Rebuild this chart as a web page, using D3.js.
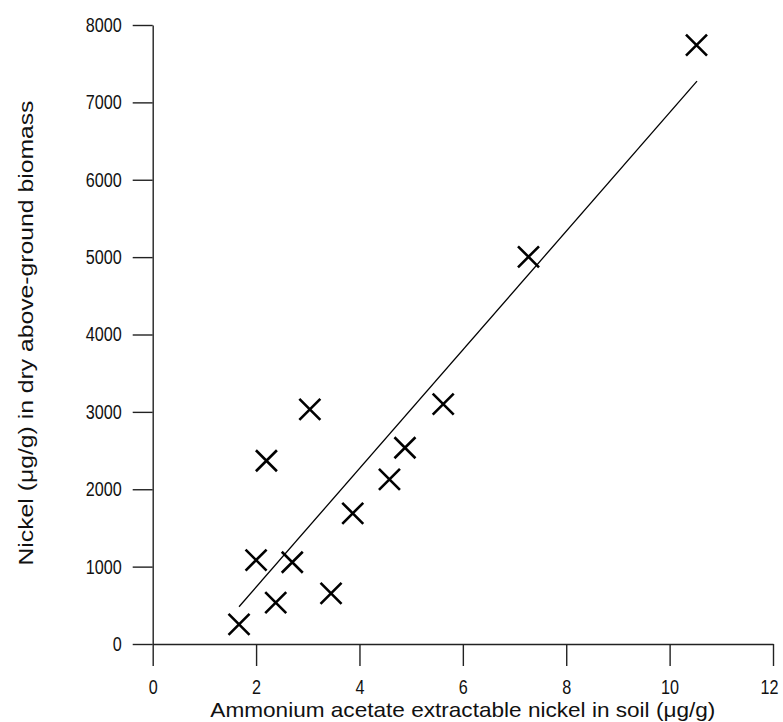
<!DOCTYPE html>
<html>
<head>
<meta charset="utf-8">
<script src="https://cdn.jsdelivr.net/npm/d3@7"></script>
<style>
  body { margin: 0; background: #fff; }
  text { font-family: "Liberation Sans", Arial, sans-serif; fill: #111; }
</style>
</head>
<body>
<div id="chart"></div>
<script>
// measured points (soil Ni vs biomass Ni)
const soilNi = [1.67, 2.0, 2.38, 2.70, 2.20, 3.04, 3.45, 3.87, 4.58, 4.88, 5.62, 7.27, 10.52];
const plantNi = [254, 1085, 534, 1056, 2368, 3032, 655, 1689, 2128, 2536, 3101, 5004, 7740];

// regression line end points
const fitX = [1.67, 10.53];
const fitY = [482, 7274];

const xTicks = [0, 2, 4, 6, 8, 10, 12];
const yTicks = [0, 1000, 2000, 3000, 4000, 5000, 6000, 7000, 8000];

const width = 783;
const height = 722;

const svg = d3.select("#chart")
  .append("svg")
  .attr("width", width)
  .attr("height", height);

const x = d3.scaleLinear().domain([0, 12]).range([152.7, 773]);
const y = d3.scaleLinear().domain([0, 8000]).range([644, 25]);

// axes
const xAxis = svg.append("g")
  .attr("transform", "translate(0," + y(0) + ")")
  .call(d3.axisBottom(x).tickValues(xTicks).tickFormat(d3.format("d"))
    .tickSize(22).tickSizeOuter(0).tickPadding(14));

const yAxis = svg.append("g")
  .attr("transform", "translate(" + x(0) + ",0)")
  .call(d3.axisLeft(y).tickValues(yTicks).tickFormat(d3.format("d"))
    .tickSize(20).tickSizeOuter(0).tickPadding(11));

// labels in the original are a bit narrow, so squeeze each digit
[xAxis, yAxis].forEach(g => {
  g.selectAll("path, line").attr("stroke", "#222").attr("stroke-width", 1.4);
  g.selectAll("text")
    .attr("font-family", "Liberation Sans, Arial, sans-serif")
    .attr("font-size", 20)
    .attr("fill", "#111")
    .attr("textLength", function() { return this.textContent.length * 9; })
    .attr("lengthAdjust", "spacingAndGlyphs");
});

// last x label sits a little left of its tick so it stays inside the page
xAxis.selectAll(".tick text").filter(d => d === 12).attr("dx", -4);

// fit line
svg.append("line")
  .attr("x1", x(fitX[0]))
  .attr("y1", y(fitY[0]))
  .attr("x2", x(fitX[1]))
  .attr("y2", y(fitY[1]))
  .attr("stroke", "#000")
  .attr("stroke-width", 1.3);

// cross markers
const r = 10.5;
svg.append("g")
  .selectAll("path")
  .data(soilNi.map((d, i) => [d, plantNi[i]]))
  .enter()
  .append("path")
  .attr("d", d => {
    const cx = x(d[0]), cy = y(d[1]);
    return `M${cx - r},${cy - r}L${cx + r},${cy + r}M${cx - r},${cy + r}L${cx + r},${cy - r}`;
  })
  .attr("stroke", "#000")
  .attr("stroke-width", 2.6)
  .attr("fill", "none");

// axis titles
svg.append("text")
  .attr("x", (x(0) + x(12)) / 2)
  .attr("y", 717)
  .attr("text-anchor", "middle")
  .attr("font-size", 21)
  .attr("textLength", 505)
  .attr("lengthAdjust", "spacingAndGlyphs")
  .text("Ammonium acetate extractable nickel in soil (μg/g)");

svg.append("text")
  .attr("transform", "translate(33,333) rotate(-90)")
  .attr("text-anchor", "middle")
  .attr("font-size", 21)
  .attr("textLength", 465)
  .attr("lengthAdjust", "spacingAndGlyphs")
  .text("Nickel (μg/g) in dry above-ground biomass");
</script>
</body>
</html>
